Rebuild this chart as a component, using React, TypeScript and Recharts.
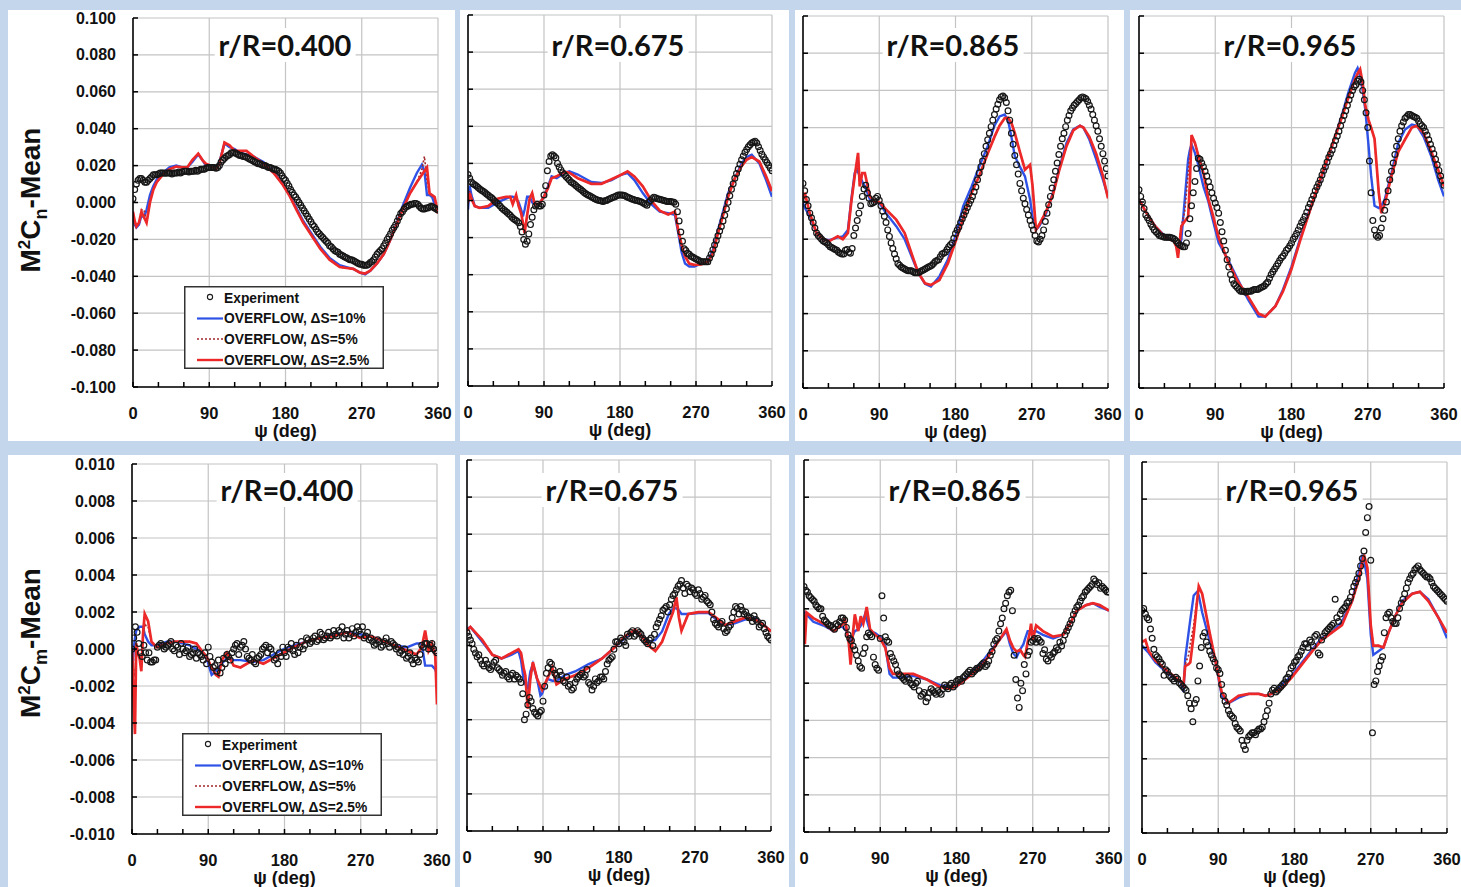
import React from "react";
import { ComposedChart, Line, Scatter, XAxis, YAxis, CartesianGrid } from "recharts";

// azimuth of the experiment samples (deg): two interleaved sweeps
const expPsi = [0, 4, 8, 12, 16, 20, 24, 28, 32, 36, 40, 44, 48, 52, 56, 60, 64, 68, 72, 76, 80, 84, 88, 92, 96, 100, 104, 108, 112, 116, 120, 124, 128, 132, 136, 140, 144, 148, 152, 156, 160, 164, 168, 172, 176, 180, 184, 188, 192, 196, 200, 204, 208, 212, 216, 220, 224, 228, 232, 236, 240, 244, 248, 252, 256, 260, 264, 268, 272, 276, 280, 284, 288, 292, 296, 300, 304, 308, 312, 316, 320, 324, 328, 332, 336, 340, 344, 348, 352, 356, 360];
const expPsiB = [2, 6, 10, 14, 18, 22, 26, 30, 34, 38, 42, 46, 50, 54, 58, 62, 66, 70, 74, 78, 82, 86, 90, 94, 98, 102, 106, 110, 114, 118, 122, 126, 130, 134, 138, 142, 146, 150, 154, 158, 162, 166, 170, 174, 178, 182, 186, 190, 194, 198, 202, 206, 210, 214, 218, 222, 226, 230, 234, 238, 242, 246, 250, 254, 258, 262, 266, 270, 274, 278, 282, 286, 290, 294, 298, 302, 306, 310, 314, 318, 322, 326, 330, 334, 338, 342, 346, 350, 354, 358];
const xTicks = [0, 30, 60, 90, 120, 150, 180, 210, 240, 270, 300, 330, 360];
const cnTicks = [-0.1, -0.08, -0.06, -0.04, -0.02, 0, 0.02, 0.04, 0.06, 0.08, 0.1];
const cmTicks = [-0.01, -0.008, -0.006, -0.004, -0.002, 0, 0.002, 0.004, 0.006, 0.008, 0.01];

// ---- M2Cn, r/R=0.400
const p1Exp = [0.002, 0.010, 0.013, 0.012, 0.011, 0.013, 0.015, 0.015, 0.016, 0.016, 0.016, 0.016, 0.016, 0.016, 0.016, 0.017, 0.017, 0.017, 0.017, 0.017, 0.018, 0.018, 0.019, 0.019, 0.019, 0.019, 0.022, 0.024, 0.0255, 0.027, 0.027, 0.026, 0.0255, 0.025, 0.024, 0.023, 0.022, 0.021, 0.0205, 0.020, 0.019, 0.0185, 0.018, 0.017, 0.0145, 0.012, 0.009, 0.0055, 0.003, 0.000, -0.003, -0.006, -0.009, -0.012, -0.0145, -0.017, -0.019, -0.021, -0.0235, -0.025, -0.0265, -0.028, -0.029, -0.030, -0.031, -0.0315, -0.0325, -0.0335, -0.034, -0.034, -0.0325, -0.031, -0.028, -0.026, -0.0235, -0.020, -0.017, -0.0135, -0.010, -0.006, -0.0035, -0.002, -0.001, -0.0005, -0.001, -0.003, -0.0035, -0.003, -0.002, -0.003, -0.004];
const p1ExpB = [0.007, 0.012, 0.013, 0.011, 0.012, 0.014, 0.015, 0.0155, 0.016, 0.0158, 0.016, 0.0155, 0.016, 0.0165, 0.0165, 0.017, 0.0165, 0.017, 0.0175, 0.0175, 0.018, 0.0185, 0.019, 0.019, 0.0185, 0.020, 0.023, 0.025, 0.026, 0.027, 0.0265, 0.0255, 0.025, 0.0245, 0.0235, 0.0225, 0.0215, 0.021, 0.020, 0.0195, 0.019, 0.018, 0.0175, 0.016, 0.013, 0.0105, 0.007, 0.004, 0.0015, -0.0015, -0.0045, -0.0075, -0.0105, -0.013, -0.016, -0.018, -0.020, -0.022, -0.024, -0.026, -0.027, -0.0285, -0.0295, -0.0305, -0.031, -0.032, -0.033, -0.0335, -0.034, -0.0335, -0.032, -0.0295, -0.027, -0.025, -0.022, -0.0185, -0.015, -0.012, -0.008, -0.005, -0.0025, -0.0015, -0.001, -0.0005, -0.002, -0.0035, -0.003, -0.0025, -0.0025, -0.0035];
const p1Psi = [0, 2, 4, 7, 10, 13, 16, 20, 24, 28, 35, 43, 51, 58, 64, 70, 77, 82, 86, 92, 98, 102, 108, 114, 120, 126, 134, 142, 154, 166, 177, 185, 193, 201, 211, 221, 232, 244, 252, 260, 268, 274, 280, 288, 296, 303, 311, 319, 327, 335, 341, 344, 347, 350, 353, 356, 360];
const p1Blue = [-0.007, -0.012, -0.0135, -0.012, -0.007, -0.008, -0.004, 0.004, 0.009, 0.0125, 0.016, 0.019, 0.020, 0.019, 0.019, 0.022, 0.026, 0.023, 0.020, 0.020, 0.019, 0.022, 0.032, 0.030, 0.029, 0.027, 0.026, 0.025, 0.022, 0.0165, 0.010, 0.004, -0.003, -0.010, -0.017, -0.024, -0.030, -0.034, -0.035, -0.036, -0.038, -0.039, -0.037, -0.033, -0.028, -0.021, -0.0115, -0.001, 0.008, 0.016, 0.0205, 0.017, 0.004, 0.004, 0.003, -0.001, -0.004];
const p1Dot = [-0.005, -0.010, -0.013, -0.011, -0.004, -0.004, -0.011, 0.000, 0.007, 0.011, 0.015, 0.018, 0.0195, 0.019, 0.019, 0.023, 0.0265, 0.023, 0.021, 0.020, 0.018, 0.021, 0.0325, 0.031, 0.028, 0.028, 0.028, 0.025, 0.021, 0.016, 0.0095, 0.0035, -0.004, -0.011, -0.018, -0.025, -0.031, -0.035, -0.0355, -0.036, -0.038, -0.0385, -0.037, -0.033, -0.028, -0.021, -0.012, -0.003, 0.005, 0.011, 0.018, 0.025, 0.012, 0.005, 0.004, 0.003, -0.006];
const p1Red = [-0.005, -0.010, -0.013, -0.011, -0.005, -0.008, -0.011, 0.000, 0.007, 0.011, 0.015, 0.018, 0.0195, 0.019, 0.019, 0.023, 0.0265, 0.023, 0.021, 0.020, 0.018, 0.021, 0.0325, 0.031, 0.028, 0.028, 0.028, 0.025, 0.021, 0.016, 0.0095, 0.0035, -0.004, -0.011, -0.018, -0.025, -0.031, -0.035, -0.0355, -0.036, -0.038, -0.0385, -0.037, -0.033, -0.028, -0.021, -0.012, -0.003, 0.005, 0.011, 0.015, 0.017, 0.019, 0.005, 0.004, 0.003, -0.006];

// ---- M2Cn, r/R=0.675
const p2Exp = [0.014, 0.010, 0.0085, 0.007, 0.0055, 0.0043, 0.0028, 0.0015, -0.0005, -0.002, -0.004, -0.0055, -0.0072, -0.009, -0.0105, -0.012, -0.017, -0.0236, -0.018, -0.009, -0.003, -0.003, -0.002, 0.008, 0.021, 0.0247, 0.023, 0.018, 0.015, 0.013, 0.011, 0.0095, 0.008, 0.0065, 0.005, 0.0035, 0.0025, 0.0015, 0.0005, 0.000, -0.0005, 0.000, 0.001, 0.0018, 0.0025, 0.003, 0.0028, 0.002, 0.0012, 0.0005, 0.000, -0.0005, -0.0015, -0.0025, 0.000, 0.0018, 0.001, 0.0005, 0.000, -0.0005, -0.0005, -0.001, -0.006, -0.017, -0.026, -0.0285, -0.030, -0.031, -0.032, -0.033, -0.033, -0.033, -0.029, -0.024, -0.019, -0.014, -0.008, -0.001, 0.006, 0.012, 0.017, 0.022, 0.026, 0.029, 0.031, 0.032, 0.029, 0.025, 0.022, 0.019, 0.016];
const p2ExpB = [0.012, 0.009, 0.0078, 0.0062, 0.005, 0.0035, 0.002, 0.0005, -0.0012, -0.003, -0.0048, -0.0063, -0.008, -0.0098, -0.011, -0.014, -0.021, -0.022, -0.013, -0.005, -0.002, -0.003, 0.003, 0.016, 0.024, 0.024, 0.020, 0.0165, 0.014, 0.012, 0.010, 0.0088, 0.0072, 0.0058, 0.0042, 0.003, 0.002, 0.001, 0.0002, -0.0003, -0.0002, 0.0005, 0.0014, 0.002, 0.003, 0.003, 0.0025, 0.0016, 0.0008, 0.0002, -0.0003, -0.001, -0.002, -0.001, 0.001, 0.0015, 0.0008, 0.0003, -0.0003, -0.0005, -0.0008, -0.002, -0.011, -0.022, -0.027, -0.029, -0.0305, -0.0315, -0.0325, -0.033, -0.033, -0.031, -0.0265, -0.0215, -0.0165, -0.011, -0.0045, 0.0025, 0.009, 0.0145, 0.0195, 0.024, 0.0275, 0.030, 0.0315, 0.031, 0.027, 0.0235, 0.0205, 0.0175];
const p2Psi = [0, 2, 4, 8, 14, 24, 35, 45, 50, 53, 57, 60, 63, 65, 67, 70, 73, 76, 79, 84, 90, 95, 99, 105, 114, 120, 130, 146, 158, 170, 182, 189, 197, 207, 217, 227, 237, 245, 249, 253, 257, 262, 268, 276, 284, 290, 296, 302, 308, 316, 324, 330, 336, 345, 353, 360];
const p2Blue = [-0.005, 0.008, 0.003, -0.003, -0.004, -0.004, -0.001, 0.001, 0.002, 0.002, 0.001, -0.001, -0.005, -0.0086, -0.005, 0.002, 0.002, -0.001, -0.002, -0.002, 0.002, 0.008, 0.013, 0.012, 0.0148, 0.0157, 0.014, 0.010, 0.0094, 0.011, 0.014, 0.0148, 0.011, 0.004, -0.002, -0.006, -0.0068, -0.0077, -0.0176, -0.028, -0.034, -0.0356, -0.0356, -0.034, -0.033, -0.0266, -0.016, -0.006, 0.004, 0.012, 0.020, 0.0235, 0.0247, 0.020, 0.011, 0.002];
const p2Dot = [-0.002, 0.005, 0.001, -0.003, -0.004, -0.003, 0.001, 0.002, 0.002, -0.001, 0.003, -0.003, -0.006, -0.011, -0.016, -0.008, 0.001, 0.004, -0.002, -0.002, 0.002, 0.007, 0.012, 0.013, 0.0155, 0.015, 0.012, 0.009, 0.009, 0.0115, 0.014, 0.0157, 0.013, 0.0076, 0.000, -0.0055, -0.0075, -0.006, -0.016, -0.024, -0.030, -0.034, -0.0347, -0.0345, -0.033, -0.0285, -0.0176, -0.008, 0.002, 0.012, 0.0185, 0.022, 0.0234, 0.021, 0.013, 0.005];
const p2Red = [-0.001, 0.004, 0.001, -0.003, -0.004, -0.003, 0.001, 0.002, 0.002, -0.002, 0.003, -0.003, -0.007, -0.012, -0.0176, -0.008, 0.001, 0.004, -0.002, -0.002, 0.002, 0.007, 0.012, 0.013, 0.0155, 0.015, 0.012, 0.009, 0.009, 0.0115, 0.014, 0.0157, 0.013, 0.0076, 0.000, -0.0055, -0.0075, -0.006, -0.016, -0.024, -0.030, -0.034, -0.0347, -0.0345, -0.033, -0.0285, -0.0176, -0.008, 0.002, 0.012, 0.0185, 0.022, 0.0234, 0.021, 0.013, 0.005];

// ---- M2Cn, r/R=0.865
const p3Exp = [0.010, 0.0013, -0.006, -0.011, -0.0167, -0.019, -0.021, -0.022, -0.024, -0.025, -0.026, -0.0275, -0.028, -0.0255, -0.0275, -0.018, -0.010, -0.002, 0.007, 0.005, -0.001, 0.000, 0.003, -0.002, -0.0077, -0.015, -0.022, -0.028, -0.033, -0.035, -0.036, -0.037, -0.037, -0.038, -0.038, -0.037, -0.036, -0.035, -0.034, -0.032, -0.031, -0.028, -0.027, -0.024, -0.022, -0.017, -0.0135, -0.009, -0.005, -0.001, 0.003, 0.008, 0.0156, 0.022, 0.030, 0.037, 0.044, 0.050, 0.055, 0.057, 0.0535, 0.044, 0.031, 0.020, 0.010, 0.002, -0.004, -0.010, -0.015, -0.021, -0.020, -0.015, -0.006, 0.003, 0.012, 0.021, 0.030, 0.037, 0.044, 0.049, 0.052, 0.054, 0.056, 0.056, 0.054, 0.050, 0.044, 0.038, 0.030, 0.022, 0.014];
const p3ExpB = [0.006, -0.002, -0.0085, -0.014, -0.018, -0.020, -0.0215, -0.023, -0.0245, -0.0255, -0.027, -0.028, -0.026, -0.027, -0.025, -0.014, -0.006, 0.003, 0.009, 0.002, -0.0005, 0.002, 0.001, -0.005, -0.011, -0.0185, -0.025, -0.0305, -0.034, -0.0355, -0.0365, -0.037, -0.0375, -0.038, -0.0375, -0.0365, -0.0355, -0.0345, -0.033, -0.0315, -0.0295, -0.0275, -0.0255, -0.023, -0.0195, -0.015, -0.011, -0.007, -0.003, 0.001, 0.0055, 0.012, 0.019, 0.026, 0.0335, 0.0405, 0.047, 0.0525, 0.0565, 0.056, 0.049, 0.037, 0.025, 0.015, 0.006, -0.001, -0.007, -0.0125, -0.018, -0.0215, -0.018, -0.0105, -0.0015, 0.0075, 0.0165, 0.0255, 0.034, 0.0405, 0.0465, 0.0505, 0.053, 0.055, 0.0565, 0.0555, 0.052, 0.047, 0.041, 0.034, 0.026, 0.018];
const p3Psi = [0, 2, 8, 16, 24, 31, 41, 47, 53, 57, 61, 63, 65, 67, 70, 73, 79, 85, 90, 98, 110, 120, 128, 136, 144, 151, 161, 171, 181, 189, 199, 208, 218, 226, 232, 238, 242, 246, 250, 256, 262, 268, 271, 275, 279, 287, 295, 303, 311, 319, 327, 331, 338, 346, 354, 360];
const p3Blue = [-0.0005, -0.003, -0.0077, -0.0167, -0.020, -0.0205, -0.019, -0.0185, -0.015, 0.0013, 0.0156, 0.0174, 0.016, 0.014, 0.011, 0.0085, 0.0013, 0.000, -0.0005, -0.006, -0.013, -0.020, -0.029, -0.038, -0.044, -0.0455, -0.040, -0.031, -0.0167, -0.0023, 0.0084, 0.019, 0.030, 0.041, 0.046, 0.047, 0.044, 0.035, 0.0246, 0.019, 0.0138, 0.0013, -0.008, -0.015, -0.013, -0.006, 0.005, 0.019, 0.0318, 0.039, 0.041, 0.040, 0.0336, 0.023, 0.012, 0.003];
const p3Dot = [0.0013, 0.005, -0.006, -0.0167, -0.020, -0.021, -0.0185, -0.020, -0.0167, 0.000, 0.015, 0.017, 0.020, 0.0084, 0.0156, 0.0156, 0.003, 0.000, 0.000, -0.004, -0.0095, -0.0167, -0.0275, -0.038, -0.0437, -0.0446, -0.042, -0.033, -0.020, -0.009, 0.005, 0.014, 0.026, 0.035, 0.041, 0.045, 0.0453, 0.0426, 0.037, 0.027, 0.0174, 0.020, 0.0084, -0.015, -0.012, -0.005, 0.004, 0.018, 0.030, 0.0385, 0.041, 0.040, 0.035, 0.026, 0.014, 0.002];
const p3Red = [0.0013, 0.005, -0.006, -0.0167, -0.020, -0.021, -0.0185, -0.020, -0.0167, 0.000, 0.0138, 0.020, 0.0264, 0.0084, 0.0156, 0.0156, 0.003, 0.000, 0.000, -0.004, -0.0095, -0.0167, -0.0275, -0.038, -0.0437, -0.0446, -0.042, -0.033, -0.020, -0.009, 0.005, 0.014, 0.026, 0.035, 0.041, 0.045, 0.0453, 0.0426, 0.037, 0.027, 0.0174, 0.020, 0.0084, -0.015, -0.012, -0.005, 0.004, 0.018, 0.030, 0.0385, 0.041, 0.040, 0.035, 0.026, 0.014, 0.002];

// ---- M2Cn, r/R=0.965
const p4Exp = [0.0066, 0.000, -0.007, -0.010, -0.0135, -0.016, -0.018, -0.0185, -0.019, -0.019, -0.0195, -0.021, -0.023, -0.024, -0.022, -0.009, 0.005, 0.018, 0.023, 0.019, 0.014, 0.008, 0.002, -0.003, -0.011, -0.021, -0.031, -0.039, -0.044, -0.046, -0.048, -0.048, -0.048, -0.048, -0.047, -0.047, -0.046, -0.045, -0.043, -0.039, -0.036, -0.033, -0.030, -0.0275, -0.025, -0.022, -0.0185, -0.015, -0.011, -0.0077, -0.003, 0.0013, 0.006, 0.010, 0.0145, 0.019, 0.024, 0.028, 0.033, 0.038, 0.044, 0.049, 0.055, 0.060, 0.063, 0.066, 0.060, 0.048, 0.022, -0.010, -0.018, -0.018, -0.009, 0.000, 0.012, 0.021, 0.030, 0.038, 0.043, 0.046, 0.047, 0.046, 0.045, 0.042, 0.040, 0.036, 0.031, 0.026, 0.020, 0.014, 0.009];
const p4ExpB = [0.003, -0.0035, -0.0085, -0.012, -0.015, -0.017, -0.0183, -0.019, -0.019, -0.0192, -0.020, -0.022, -0.0235, -0.024, -0.017, -0.002, 0.011, 0.0235, 0.021, 0.0165, 0.011, 0.005, -0.0005, -0.006, -0.016, -0.026, -0.035, -0.042, -0.045, -0.047, -0.048, -0.0485, -0.048, -0.0475, -0.047, -0.0465, -0.0455, -0.044, -0.041, -0.0375, -0.0345, -0.0315, -0.029, -0.026, -0.0235, -0.020, -0.017, -0.013, -0.0095, -0.0055, -0.001, 0.0035, 0.008, 0.012, 0.017, 0.0215, 0.026, 0.0305, 0.0355, 0.041, 0.0465, 0.052, 0.0575, 0.062, 0.065, 0.0645, 0.055, 0.040, 0.005, -0.015, -0.019, -0.014, -0.0045, 0.006, 0.0165, 0.0255, 0.034, 0.041, 0.045, 0.047, 0.0465, 0.0455, 0.0435, 0.041, 0.038, 0.0335, 0.0285, 0.023, 0.017, 0.0115];
const p4Psi = [0, 9, 19, 31, 41, 44, 46, 50, 54, 58, 60, 62, 66, 70, 76, 82, 86, 94, 105, 117, 129, 141, 149, 161, 170, 180, 190, 200, 210, 220, 229, 239, 247, 255, 258, 261, 264, 267, 271, 274, 278, 283, 286, 290, 298, 306, 314, 322, 328, 336, 345, 353, 360];
const p4Blue = [0.0013, -0.006, -0.013, -0.0185, -0.021, -0.023, -0.0275, -0.020, 0.0013, 0.023, 0.028, 0.031, 0.0264, 0.020, 0.0084, 0.000, -0.0077, -0.022, -0.031, -0.042, -0.0527, -0.0616, -0.0616, -0.056, -0.047, -0.0347, -0.020, -0.006, 0.0066, 0.019, 0.0318, 0.046, 0.0587, 0.0695, 0.072, 0.0677, 0.060, 0.050, 0.030, 0.014, -0.002, -0.0032, -0.002, 0.0013, 0.0156, 0.0318, 0.039, 0.0417, 0.041, 0.035, 0.0246, 0.012, 0.003];
const p4Dot = [0.0013, -0.006, -0.013, -0.019, -0.021, -0.024, -0.029, -0.013, -0.005, 0.015, 0.025, 0.034, 0.0318, 0.025, 0.0156, 0.0013, -0.005, -0.019, -0.032, -0.043, -0.051, -0.060, -0.0616, -0.056, -0.048, -0.036, -0.021, -0.007, 0.007, 0.020, 0.032, 0.045, 0.056, 0.066, 0.069, 0.0713, 0.064, 0.052, 0.044, 0.040, 0.034, 0.005, -0.006, -0.001, 0.014, 0.027, 0.0336, 0.040, 0.041, 0.037, 0.027, 0.0174, 0.0084];
const p4Red = [0.0013, -0.006, -0.013, -0.019, -0.021, -0.024, -0.030, -0.013, -0.0104, -0.008, 0.010, 0.036, 0.0318, 0.025, 0.0156, 0.0013, -0.005, -0.019, -0.032, -0.043, -0.051, -0.060, -0.0616, -0.056, -0.048, -0.036, -0.021, -0.007, 0.007, 0.020, 0.032, 0.045, 0.056, 0.066, 0.069, 0.0713, 0.064, 0.052, 0.044, 0.040, 0.034, 0.005, -0.006, -0.001, 0.014, 0.027, 0.0336, 0.040, 0.041, 0.037, 0.027, 0.0174, 0.0084];

// ---- M2Cm, r/R=0.400
const p5Exp = [0.0000, 0.0012, 0.0003, -0.0004, -0.0002, -0.0002, -0.0007, -0.0006, 0.0002, 0.0002, 0.0001, 0.0003, 0.0000, 0.0002, -0.0003, 0.0000, -0.0001, -0.0004, -0.0002, -0.0005, -0.0003, -0.0006, -0.0008, -0.0004, -0.0010, -0.0012, -0.0013, -0.0005, -0.0003, -0.0006, 0.0000, 0.0003, 0.0001, 0.0004, -0.0004, -0.0006, -0.0007, -0.0005, -0.0003, 0.0001, -0.0002, 0.0000, -0.0006, -0.0008, -0.0004, -0.0002, 0.0001, 0.0003, -0.0003, -0.0002, 0.0004, 0.0002, 0.0005, 0.0004, 0.0007, 0.0005, 0.0008, 0.0006, 0.0009, 0.0007, 0.0008, 0.0010, 0.0012, 0.0008, 0.0006, 0.0011, 0.0009, 0.0010, 0.0012, 0.0007, 0.0005, 0.0004, 0.0003, 0.0004, 0.0002, 0.0006, 0.0001, 0.0003, 0.0000, -0.0002, -0.0003, -0.0005, -0.0002, -0.0008, -0.0006, -0.0003, 0.0001, 0.0003, 0.0002, 0.0000, -0.0002];
const p5ExpB = [0.0006, 0.0009, -0.0002, 0.0002, -0.0006, -0.0007, -0.0006, 0.0001, 0.0003, 0.0000, 0.0002, 0.0004, -0.0001, 0.0001, 0.0003, -0.0002, 0.0001, -0.0003, 0.0000, -0.0002, -0.0004, -0.0002, 0.0001, -0.0007, -0.0009, -0.0006, -0.0010, -0.0008, -0.0004, -0.0002, 0.0002, -0.0003, 0.0002, 0.0000, -0.0005, -0.0003, -0.0008, -0.0004, 0.0000, 0.0002, 0.0001, -0.0003, -0.0005, -0.0002, 0.0001, -0.0004, 0.0000, -0.0001, 0.0002, 0.0001, 0.0000, 0.0006, 0.0003, 0.0006, 0.0004, 0.0009, 0.0005, 0.0007, 0.0006, 0.0010, 0.0007, 0.0009, 0.0006, 0.0010, 0.0008, 0.0007, 0.0012, 0.0008, 0.0006, 0.0009, 0.0006, 0.0002, 0.0005, 0.0001, 0.0004, 0.0003, 0.0004, 0.0002, 0.0001, -0.0001, 0.0000, -0.0004, -0.0006, -0.0005, -0.0007, 0.0002, 0.0003, 0.0000, 0.0003, -0.0001];
const p5Psi = [0, 2, 3.5, 5, 7, 9, 11, 13, 15, 17, 19, 23, 29, 41, 50, 59, 68, 76, 84, 88, 94, 99, 102, 106, 112, 120, 128, 143, 155, 167, 179, 191, 206, 222, 238, 254, 269, 281, 293, 309, 325, 336, 342, 346, 350, 354, 358, 360];
const p5Blue = [-0.0015, 0.000, 0.0006, 0.001, 0.0011, 0.0012, 0.0012, 0.0012, 0.0008, 0.0006, 0.0004, 0.0002, 0.0002, 0.0004, 0.0004, 0.0003, 0.0002, 0.0000, -0.0002, -0.0005, -0.0014, -0.0012, -0.001, -0.0008, -0.0005, -0.0006, -0.0006, -0.0007, -0.0006, -0.0003, 0.0000, 0.0002, 0.0004, 0.0006, 0.0008, 0.0009, 0.0008, 0.0007, 0.0005, 0.0002, 0.0001, 0.0003, 0.0003, -0.0009, -0.0009, -0.0009, -0.0011, -0.0014];
const p5Dot = [0.0000, -0.001, -0.0015, 0.0003, -0.0002, -0.0005, -0.0010, 0.0006, 0.0014, 0.0012, 0.0012, 0.0004, 0.0001, 0.0003, 0.0004, 0.0004, 0.0004, 0.0003, -0.0002, -0.0004, -0.0010, -0.0014, -0.0015, -0.0006, -0.0002, -0.0009, -0.001, -0.0006, -0.0008, -0.0005, -0.0002, 0.0001, 0.0004, 0.0006, 0.0007, 0.0009, 0.0006, 0.0007, 0.0005, 0.0002, -0.0001, -0.0003, 0.0001, 0.0008, -0.0001, 0.0003, -0.0004, -0.002];
const p5Red = [0.0000, -0.003, -0.0046, 0.0003, -0.0002, -0.0005, -0.0012, 0.0008, 0.0019, 0.0017, 0.0015, 0.0004, 0.0001, 0.0003, 0.0004, 0.0004, 0.0004, 0.0003, -0.0002, -0.0004, -0.0010, -0.0014, -0.0015, -0.0006, -0.0002, -0.0009, -0.001, -0.0006, -0.0008, -0.0005, -0.0002, 0.0001, 0.0004, 0.0006, 0.0007, 0.0009, 0.0006, 0.0007, 0.0005, 0.0002, -0.0001, -0.0003, 0.0001, 0.001, -0.0001, 0.0003, -0.0004, -0.003];

// ---- M2Cm, r/R=0.675
const p6Exp = [0.0007, 0.0003, -0.0002, -0.0006, -0.0008, -0.0011, -0.0010, -0.0013, -0.0009, -0.0012, -0.0014, -0.0015, -0.0017, -0.0016, -0.0018, -0.0017, -0.0020, -0.0040, -0.0032, -0.0030, -0.0036, -0.0038, -0.0035, -0.0022, -0.0012, -0.0010, -0.0015, -0.0018, -0.0016, -0.0020, -0.0022, -0.0024, -0.0020, -0.0017, -0.0015, -0.0016, -0.0020, -0.0024, -0.0018, -0.0019, -0.0017, -0.0014, -0.0008, -0.0006, 0.0002, 0.0001, 0.0003, 0.0000, 0.0005, 0.0008, 0.0006, 0.0007, 0.0004, 0.0002, 0.0003, 0.0000, 0.0010, 0.0014, 0.0019, 0.0021, 0.0022, 0.0027, 0.0030, 0.0033, 0.0031, 0.0033, 0.0029, 0.0030, 0.0027, 0.0028, 0.0026, 0.0024, 0.0022, 0.0014, 0.0011, 0.0012, 0.0009, 0.0008, 0.0011, 0.0018, 0.0020, 0.0021, 0.0017, 0.0016, 0.0015, 0.0016, 0.0013, 0.0011, 0.0009, 0.0005, 0.0003];
const p6ExpB = [0.0005, 0.0001, -0.0004, -0.0005, -0.0010, -0.0008, -0.0012, -0.0011, -0.0008, -0.0013, -0.0016, -0.0014, -0.0018, -0.0015, -0.0016, -0.0018, -0.0026, -0.0037, -0.0028, -0.0034, -0.0037, -0.0036, -0.0030, -0.0015, -0.0009, -0.0013, -0.0016, -0.0014, -0.0019, -0.0017, -0.0021, -0.0023, -0.0018, -0.0016, -0.0017, -0.0013, -0.0021, -0.0022, -0.0020, -0.0017, -0.0018, -0.0010, -0.0007, -0.0002, 0.0002, 0.0004, 0.0002, 0.0006, 0.0007, 0.0005, 0.0008, 0.0006, 0.0003, 0.0001, 0.0004, 0.0006, 0.0012, 0.0016, 0.0020, 0.0018, 0.0025, 0.0028, 0.0032, 0.0035, 0.0028, 0.0032, 0.0031, 0.0028, 0.0030, 0.0025, 0.0027, 0.0023, 0.0018, 0.0012, 0.0010, 0.0013, 0.0007, 0.0010, 0.0015, 0.0021, 0.0017, 0.0019, 0.0018, 0.0015, 0.0013, 0.0014, 0.0010, 0.0012, 0.0007, 0.0004];
const p6Psi = [0, 4, 18, 30, 41, 53, 61, 64, 67, 69, 72, 75, 78, 83, 87, 89, 95, 101, 104, 106, 116, 128, 144, 160, 175, 187, 199, 207, 215, 223, 231, 239, 244, 248, 251, 254, 262, 274, 286, 298, 306, 317, 329, 341, 349, 360];
const p6Blue = [0.0009, 0.001, 0.0002, -0.0005, -0.0007, -0.0005, -0.0003, -0.0008, -0.0018, -0.0021, -0.0023, -0.0014, -0.001, -0.0018, -0.0027, -0.0026, -0.0018, -0.0019, -0.0019, -0.0019, -0.0016, -0.0014, -0.001, -0.0007, -0.0001, 0.0004, 0.00076, 0.0005, 0.0002, 0.0003, 0.00076, 0.0017, 0.002, 0.002, 0.0019, 0.0017, 0.0017, 0.00175, 0.00175, 0.0013, 0.0011, 0.0012, 0.0014, 0.0015, 0.0012, 0.00076];
const p6Dot = [0.0008, 0.001, 0.0003, -0.0005, -0.0007, -0.0004, -0.0002, -0.0004, -0.0012, -0.0016, -0.0032, -0.0018, -0.0009, -0.0018, -0.0022, -0.0024, -0.0018, -0.0012, -0.0018, -0.0021, -0.0018, -0.0016, -0.0012, -0.0007, -0.0001, 0.0005, 0.00085, 0.0005, 0.0000, -0.0003, 0.0002, 0.0012, 0.0018, 0.0025, 0.0015, 0.0008, 0.0017, 0.0018, 0.0018, 0.0014, 0.0011, 0.0013, 0.0015, 0.0014, 0.0012, 0.00076];
const p6Red = [0.0008, 0.001, 0.0003, -0.0005, -0.0007, -0.0004, -0.0002, -0.0004, -0.0012, -0.0016, -0.0034, -0.0018, -0.0009, -0.0018, -0.0022, -0.0024, -0.0018, -0.0012, -0.0018, -0.0021, -0.0018, -0.0016, -0.0012, -0.0007, -0.0001, 0.0005, 0.00085, 0.0005, 0.0000, -0.0003, 0.0002, 0.0012, 0.0018, 0.0026, 0.0015, 0.0008, 0.0017, 0.0018, 0.0018, 0.0014, 0.0011, 0.0013, 0.0015, 0.0014, 0.0012, 0.00076];

// ---- M2Cm, r/R=0.865
const p7Exp = [0.0032, 0.0029, 0.0026, 0.0024, 0.0021, 0.0020, 0.0014, 0.0012, 0.0011, 0.0009, 0.0011, 0.0015, 0.0014, 0.0006, 0.0003, -0.0002, -0.0008, -0.0012, -0.0001, 0.0007, 0.0005, -0.0010, -0.0013, 0.0027, 0.0005, 0.0002, -0.0006, -0.0010, -0.0015, -0.0017, -0.0019, -0.0018, -0.0021, -0.0020, -0.0024, -0.0026, -0.0030, -0.0025, -0.0024, -0.0026, -0.0025, -0.0023, -0.0022, -0.0021, -0.0022, -0.0019, -0.0018, -0.0017, -0.0015, -0.0013, -0.0014, -0.0012, -0.0011, -0.0009, -0.0010, -0.0005, 0.0001, 0.0004, 0.0012, 0.0020, 0.0027, 0.0030, -0.0005, -0.0028, -0.0020, -0.0010, -0.0005, 0.0002, 0.0004, 0.0004, 0.0002, -0.0002, -0.0008, -0.0006, -0.0003, -0.0002, 0.0000, 0.0006, 0.0010, 0.0014, 0.0019, 0.0022, 0.0026, 0.0029, 0.0031, 0.0033, 0.0035, 0.0034, 0.0032, 0.0030, 0.0029];
const p7ExpB = [0.0030, 0.0027, 0.0025, 0.0022, 0.0020, 0.0016, 0.0013, 0.0011, 0.0010, 0.0012, 0.0013, 0.0015, 0.0010, 0.0004, 0.0000, -0.0005, -0.0011, -0.0004, 0.0005, 0.0006, -0.0006, -0.0012, 0.0004, 0.0015, 0.0003, -0.0004, -0.0008, -0.0013, -0.0016, -0.0018, -0.0017, -0.0020, -0.0022, -0.0019, -0.0027, -0.0025, -0.0028, -0.0023, -0.0025, -0.0024, -0.0026, -0.0021, -0.0023, -0.0020, -0.0021, -0.0018, -0.0019, -0.0016, -0.0014, -0.0015, -0.0013, -0.0012, -0.0010, -0.0011, -0.0008, -0.0003, 0.0003, 0.0008, 0.0015, 0.0023, 0.0029, 0.0019, -0.0018, -0.0033, -0.0024, -0.0015, -0.0003, 0.0003, 0.0002, 0.0003, -0.0004, -0.0007, -0.0005, -0.0004, -0.0001, 0.0002, 0.0003, 0.0008, 0.0012, 0.0017, 0.0021, 0.0024, 0.0027, 0.0030, 0.0032, 0.0036, 0.0033, 0.0031, 0.0031, 0.0029];
const p7Psi = [0, 1, 3, 11, 23, 35, 44, 46, 48, 50, 53, 55, 58, 60, 64, 67, 70, 72, 74, 78, 84, 90, 96, 101, 105, 113, 129, 145, 160, 172, 182, 196, 211, 223, 239, 243, 247, 251, 255, 259, 261, 264, 266, 268, 270, 274, 282, 294, 306, 314, 322, 333, 341, 349, 360];
const p7Blue = [0.0018, 0.0018, 0.0017, 0.0013, 0.0011, 0.0008, 0.0011, 0.0010, 0.0009, 0.0008, 0.0004, 0.0003, 0.0006, 0.0008, 0.0009, 0.0011, 0.0014, 0.0017, 0.0014, 0.0008, 0.0007, 0.0005, 0.0000, -0.0015, -0.0017, -0.0017, -0.0016, -0.0018, -0.0021, -0.0022, -0.0021, -0.0015, -0.0008, -0.0001, 0.0008, 0.0001, -0.0004, -0.0006, -0.0002, 0.0001, 0.0004, 0.0008, 0.0008, 0.0008, 0.0008, 0.0008, 0.0006, 0.0004, 0.0006, 0.0012, 0.0019, 0.0022, 0.0023, 0.0021, 0.0019];
const p7Dot = [0.0017, 0.0008, 0.0018, 0.0015, 0.0012, 0.0008, 0.0011, 0.0012, 0.0014, 0.0010, 0.0002, -0.0006, 0.0008, 0.0015, 0.0008, 0.0015, 0.0012, 0.0016, 0.0020, 0.0009, 0.0006, 0.0004, -0.0001, -0.0012, -0.0015, -0.0015, -0.0015, -0.0018, -0.0022, -0.0023, -0.0021, -0.0016, -0.0010, -0.0002, 0.0009, 0.0003, -0.0001, -0.0003, -0.0002, -0.0004, -0.0005, 0.0002, 0.0006, 0.0011, 0.0004, 0.0011, 0.0008, 0.0005, 0.0006, 0.0012, 0.0019, 0.0022, 0.0023, 0.0022, 0.0019];
const p7Red = [0.0017, 0.0001, 0.0018, 0.0015, 0.0012, 0.0008, 0.0011, 0.0012, 0.0015, 0.0010, 0.0001, -0.0010, 0.0008, 0.0017, 0.0008, 0.0016, 0.0012, 0.0016, 0.0021, 0.0009, 0.0006, 0.0004, -0.0001, -0.0012, -0.0015, -0.0015, -0.0015, -0.0018, -0.0022, -0.0023, -0.0021, -0.0016, -0.0010, -0.0002, 0.0009, 0.0003, -0.0001, -0.0003, -0.0002, -0.0005, -0.0006, 0.0002, 0.0006, 0.0012, 0.0003, 0.0011, 0.0008, 0.0005, 0.0006, 0.0012, 0.0019, 0.0022, 0.0023, 0.0022, 0.0019];

// ---- M2Cm, r/R=0.965
const p8Exp = [0.0020, 0.0018, 0.0015, 0.0005, -0.0004, -0.0006, -0.0009, -0.0012, -0.0015, -0.0017, -0.0016, -0.0019, -0.0021, -0.0023, -0.0030, -0.0040, -0.0028, -0.0010, 0.0006, 0.0003, -0.0002, -0.0006, -0.0011, -0.0014, -0.0026, -0.0031, -0.0036, -0.0038, -0.0043, -0.0045, -0.0053, -0.0050, -0.0047, -0.0046, -0.0045, -0.0044, -0.0040, -0.0034, -0.0025, -0.0022, -0.0023, -0.0021, -0.0019, -0.0016, -0.0011, -0.0008, -0.0005, -0.0002, 0.0002, 0.0000, 0.0003, 0.0006, -0.0003, 0.0004, 0.0008, 0.0010, 0.0012, 0.0026, 0.0014, 0.0020, 0.0022, 0.0025, 0.0030, 0.0035, 0.0040, 0.0048, 0.0062, 0.0076, -0.0046, -0.0018, -0.0010, -0.0005, 0.0016, 0.0019, 0.0014, 0.0013, 0.0021, 0.0026, 0.0032, 0.0037, 0.0040, 0.0043, 0.0042, 0.0040, 0.0038, 0.0037, 0.0033, 0.0031, 0.0029, 0.0027, 0.0025];
const p8ExpB = [0.0021, 0.0016, 0.0010, -0.0001, -0.0005, -0.0008, -0.0015, -0.0013, -0.0016, -0.0018, -0.0017, -0.0020, -0.0022, -0.0026, -0.0033, -0.0030, -0.0018, 0.0000, 0.0008, 0.0001, -0.0004, -0.0008, -0.0012, -0.0020, -0.0029, -0.0034, -0.0037, -0.0041, -0.0044, -0.0050, -0.0055, -0.0048, -0.0046, -0.0047, -0.0044, -0.0043, -0.0037, -0.0030, -0.0023, -0.0024, -0.0022, -0.0020, -0.0017, -0.0014, -0.0010, -0.0007, -0.0004, 0.0000, 0.0002, 0.0004, 0.0001, 0.0007, -0.0004, 0.0006, 0.0009, 0.0011, 0.0013, 0.0016, 0.0018, 0.0021, 0.0024, 0.0027, 0.0033, 0.0037, 0.0044, 0.0052, 0.0070, 0.0047, -0.0020, -0.0013, -0.0007, 0.0008, 0.0018, 0.0016, 0.0013, 0.0016, 0.0024, 0.0029, 0.0035, 0.0039, 0.0042, 0.0044, 0.0041, 0.0039, 0.0038, 0.0035, 0.0032, 0.0030, 0.0028, 0.0026];
const p8Psi = [0, 4, 8, 16, 28, 39, 45, 49, 51, 55, 57, 61, 65, 67, 71, 79, 87, 94, 102, 114, 126, 138, 146, 153, 165, 177, 189, 201, 212, 224, 236, 248, 256, 260, 262, 266, 270, 273, 279, 285, 291, 299, 307, 319, 328, 338, 350, 360];
const p8Blue = [0.0001, -0.0001, -0.0003, -0.0008, -0.0013, -0.0017, -0.0018, -0.0024, -0.0006, 0.0008, 0.0015, 0.0028, 0.003, 0.0028, 0.0019, 0.0005, -0.0008, -0.0026, -0.003, -0.0027, -0.0025, -0.0025, -0.0026, -0.0025, -0.002, -0.0015, -0.0008, -0.0001, 0.0005, 0.0008, 0.0014, 0.0025, 0.0041, 0.005, 0.0047, 0.0037, 0.0007, -0.0004, -0.0002, 0.0000, 0.0008, 0.0017, 0.0025, 0.0029, 0.003, 0.0026, 0.0016, 0.0005];
const p8Dot = [0.0003, 0.0004, -0.0002, -0.0007, -0.0012, -0.0016, -0.0018, -0.0021, -0.0009, -0.0004, 0.0002, 0.0012, 0.0026, 0.0032, 0.0029, 0.001, -0.0008, -0.0024, -0.003, -0.0026, -0.0025, -0.0025, -0.0026, -0.0025, -0.0022, -0.0016, -0.0009, -0.0002, 0.0004, 0.0008, 0.0012, 0.0025, 0.0037, 0.0046, 0.005, 0.0043, 0.0012, 0.0001, 0.0001, 0.0000, 0.0008, 0.0017, 0.0024, 0.0029, 0.003, 0.0025, 0.0016, 0.0008];
const p8Red = [0.0003, 0.0004, -0.0002, -0.0007, -0.0012, -0.0016, -0.0018, -0.002, -0.001, -0.0009, -0.0008, 0.0007, 0.0025, 0.0033, 0.0029, 0.001, -0.0008, -0.0024, -0.003, -0.0026, -0.0025, -0.0025, -0.0026, -0.0025, -0.0022, -0.0016, -0.0009, -0.0002, 0.0004, 0.0008, 0.0012, 0.0025, 0.0037, 0.0046, 0.005, 0.0043, 0.0012, 0.0001, 0.0001, 0.0000, 0.0008, 0.0017, 0.0024, 0.0029, 0.003, 0.0025, 0.0016, 0.0008];

const legendLabels = ["Experiment", "OVERFLOW, ΔS=10%", "OVERFLOW, ΔS=5%", "OVERFLOW, ΔS=2.5%"];

// colours
const BLUE = "#2f52e6";
const RED = "#ec2828";
const DARKRED = "#a3262a";
const GRID = "#c4c4c4";
const BG = "#c4d6ec";
const AXFONT = '"Liberation Sans", Arial, sans-serif';

// chart frame around the plot area
const ML = 80;
const MR = 25;
const MT = 10;
const XH = 60;

interface PanelDef {
  x0: number; x1: number; y0: number; y1: number;
  title: string; tx: number; ty: number;
  yMin: number; yMax: number; yTicks: number[];
  showY: boolean;
  exp: number[]; expB: number[];
  psi: number[]; blue: number[]; dot: number[]; red: number[];
}

const panels: PanelDef[] = [
  { x0: 133, x1: 438, y0: 18, y1: 387, title: "r/R=0.400", tx: 285, ty: 45, yMin: -0.1, yMax: 0.1, yTicks: cnTicks, showY: true, exp: p1Exp, expB: p1ExpB, psi: p1Psi, blue: p1Blue, dot: p1Dot, red: p1Red },
  { x0: 468, x1: 772, y0: 15, y1: 386, title: "r/R=0.675", tx: 618, ty: 45, yMin: -0.1, yMax: 0.1, yTicks: cnTicks, showY: false, exp: p2Exp, expB: p2ExpB, psi: p2Psi, blue: p2Blue, dot: p2Dot, red: p2Red },
  { x0: 803, x1: 1108, y0: 16, y1: 388, title: "r/R=0.865", tx: 953, ty: 45, yMin: -0.1, yMax: 0.1, yTicks: cnTicks, showY: false, exp: p3Exp, expB: p3ExpB, psi: p3Psi, blue: p3Blue, dot: p3Dot, red: p3Red },
  { x0: 1139, x1: 1444, y0: 16, y1: 388, title: "r/R=0.965", tx: 1290, ty: 45, yMin: -0.1, yMax: 0.1, yTicks: cnTicks, showY: false, exp: p4Exp, expB: p4ExpB, psi: p4Psi, blue: p4Blue, dot: p4Dot, red: p4Red },
  { x0: 132, x1: 437, y0: 464, y1: 834, title: "r/R=0.400", tx: 287, ty: 490, yMin: -0.01, yMax: 0.01, yTicks: cmTicks, showY: true, exp: p5Exp, expB: p5ExpB, psi: p5Psi, blue: p5Blue, dot: p5Dot, red: p5Red },
  { x0: 467, x1: 771, y0: 460, y1: 831, title: "r/R=0.675", tx: 612, ty: 490, yMin: -0.01, yMax: 0.01, yTicks: cmTicks, showY: false, exp: p6Exp, expB: p6ExpB, psi: p6Psi, blue: p6Blue, dot: p6Dot, red: p6Red },
  { x0: 804, x1: 1109, y0: 460, y1: 832, title: "r/R=0.865", tx: 955, ty: 490, yMin: -0.01, yMax: 0.01, yTicks: cmTicks, showY: false, exp: p7Exp, expB: p7ExpB, psi: p7Psi, blue: p7Blue, dot: p7Dot, red: p7Red },
  { x0: 1142, x1: 1447, y0: 462, y1: 833, title: "r/R=0.965", tx: 1292, ty: 490, yMin: -0.01, yMax: 0.01, yTicks: cmTicks, showY: false, exp: p8Exp, expB: p8ExpB, psi: p8Psi, blue: p8Blue, dot: p8Dot, red: p8Red },
];

// open circle for experiment points
function Ring(props: any) {
  const { cx, cy } = props;
  if (cx == null || cy == null) return <g />;
  return <circle cx={cx} cy={cy} r={2.9} fill="none" stroke="#161616" strokeWidth={1.2} />;
}

function Panel({ p }: { p: PanelDef }) {
  const pw = p.x1 - p.x0;
  const ph = p.y1 - p.y0;
  const axisY = MT + ph;

  const expData = [
    ...expPsi.map((psi, i) => ({ psi, v: p.exp[i] })),
    ...expPsiB.map((psi, i) => ({ psi, v: p.expB[i] })),
  ];
  const lineData = p.psi.map((psi, i) => ({ psi, blue: p.blue[i], dot: p.dot[i], red: p.red[i] }));

  // ticks point into the plot, labels only every 90 deg
  const xTick = (t: any) => (
    <g key={`x${t.index}`}>
      <line x1={t.x} x2={t.x} y1={axisY} y2={axisY - 5} stroke="#000" strokeWidth={1.5} />
      {t.payload.value % 90 === 0 && (
        <text x={t.x} y={axisY + 26} textAnchor="middle" dominantBaseline="central"
          fontFamily={AXFONT} fontWeight={700} fontSize={16.5} fill="#111">
          {t.payload.value}
        </text>
      )}
    </g>
  );

  const yTick = (t: any) => (
    <g key={`y${t.index}`}>
      <line x1={ML} x2={ML + 5} y1={t.y} y2={t.y} stroke="#000" strokeWidth={1.5} />
      {p.showY && (
        <text x={ML - 17} y={t.y} textAnchor="end" dominantBaseline="central"
          fontFamily={AXFONT} fontWeight={700} fontSize={16} fill="#111">
          {Number(t.payload.value).toFixed(3)}
        </text>
      )}
    </g>
  );

  return (
    <div style={{ position: "absolute", left: p.x0 - ML, top: p.y0 - MT }}>
      <ComposedChart width={pw + ML + MR} height={ph + MT + XH} margin={{ top: MT, right: MR, bottom: 0, left: 0 }}>
        <CartesianGrid stroke={GRID} strokeWidth={1.2} verticalValues={[90, 180, 270, 360]} />
        <XAxis
          type="number"
          dataKey="psi"
          domain={[0, 360]}
          ticks={xTicks}
          interval={0}
          height={XH}
          allowDataOverflow
          tickLine={false}
          axisLine={{ stroke: "#000", strokeWidth: 1.6 }}
          tick={xTick}
          label={{
            content: () => (
              <text x={ML + pw / 2} y={axisY + 44} textAnchor="middle" dominantBaseline="central"
                fontFamily={AXFONT} fontWeight={700} fontSize={18} fill="#111">
                ψ (deg)
              </text>
            ),
          }}
        />
        <YAxis
          type="number"
          domain={[p.yMin, p.yMax]}
          ticks={p.yTicks}
          interval={0}
          width={ML}
          allowDataOverflow
          tickLine={false}
          axisLine={{ stroke: "#000", strokeWidth: 1.6 }}
          tick={yTick}
        />
        <Scatter data={expData} dataKey="v" shape={Ring} isAnimationActive={false} />
        <Line data={lineData} dataKey="blue" type="linear" stroke={BLUE} strokeWidth={2.4} dot={false} activeDot={false} isAnimationActive={false} />
        <Line data={lineData} dataKey="dot" type="linear" stroke={DARKRED} strokeWidth={1.6} strokeDasharray="2 2" dot={false} activeDot={false} isAnimationActive={false} />
        <Line data={lineData} dataKey="red" type="linear" stroke={RED} strokeWidth={2.7} dot={false} activeDot={false} isAnimationActive={false} />
      </ComposedChart>
    </div>
  );
}

function Title({ text, x, y }: { text: string; x: number; y: number }) {
  return (
    <div
      style={{
        position: "absolute",
        left: x,
        top: y,
        transform: "translate(-50%, -50%)",
        background: "#fff",
        padding: "1px 4px",
        fontFamily: "Lato, 'Open Sans', sans-serif",
        fontWeight: 700,
        fontSize: 29,
        lineHeight: "32px",
        color: "#111",
        whiteSpace: "nowrap",
      }}
    >
      {text}
    </div>
  );
}

function LegendBox({ left, top }: { left: number; top: number }) {
  const rows = [12, 32.5, 53, 74];
  return (
    <svg style={{ position: "absolute", left, top }} width={200} height={83}>
      <rect x={0.75} y={0.75} width={198.5} height={81.5} fill="#fff" stroke="#333" strokeWidth={1.5} />
      <circle cx={26} cy={rows[0] - 1} r={2.6} fill="none" stroke="#1c1c1c" strokeWidth={1.1} />
      <line x1={13} x2={39} y1={rows[1]} y2={rows[1]} stroke={BLUE} strokeWidth={2.2} />
      <line x1={13} x2={39} y1={rows[2]} y2={rows[2]} stroke={DARKRED} strokeWidth={1.6} strokeDasharray="2 2" />
      <line x1={13} x2={39} y1={rows[3]} y2={rows[3]} stroke={RED} strokeWidth={2.4} />
      {legendLabels.map((s, i) => (
        <text key={s} x={40} y={rows[i]} dominantBaseline="central" fontFamily={AXFONT} fontWeight={700} fontSize={13.8} fill="#111">
          {s}
        </text>
      ))}
    </svg>
  );
}

function YTitle({ x, y, sub }: { x: number; y: number; sub: string }) {
  return (
    <div
      style={{
        position: "absolute",
        left: x,
        top: y,
        transform: "translate(-50%, -50%) rotate(-90deg)",
        fontFamily: AXFONT,
        fontWeight: 700,
        fontSize: 28,
        color: "#111",
        whiteSpace: "nowrap",
        lineHeight: "32px",
      }}
    >
      M<sup style={{ fontSize: 17 }}>2</sup>C<sub style={{ fontSize: 18 }}>{sub}</sub>-Mean
    </div>
  );
}

const boxes = [
  { l: 8, t: 10, r: 455, b: 441 },
  { l: 460, t: 10, r: 789, b: 441 },
  { l: 795, t: 10, r: 1124, b: 441 },
  { l: 1130, t: 10, r: 1461, b: 441 },
  { l: 8, t: 455, r: 455, b: 887 },
  { l: 460, t: 455, r: 789, b: 887 },
  { l: 795, t: 455, r: 1124, b: 887 },
  { l: 1130, t: 455, r: 1461, b: 887 },
];

export default function App() {
  return (
    <div style={{ position: "absolute", left: 0, top: 0, width: 1461, height: 887, overflow: "hidden", background: BG }}>
      {boxes.map((b, i) => (
        <div key={i} style={{ position: "absolute", left: b.l, top: b.t, width: b.r - b.l, height: b.b - b.t, background: "#fff" }} />
      ))}
      {panels.map((p, i) => (
        <Panel key={i} p={p} />
      ))}
      {panels.map((p, i) => (
        <Title key={`t${i}`} text={p.title} x={p.tx} y={p.ty} />
      ))}
      <LegendBox left={184} top={286} />
      <LegendBox left={182} top={733} />
      <YTitle x={33} y={200} sub="n" />
      <YTitle x={33} y={643} sub="m" />
    </div>
  );
}
